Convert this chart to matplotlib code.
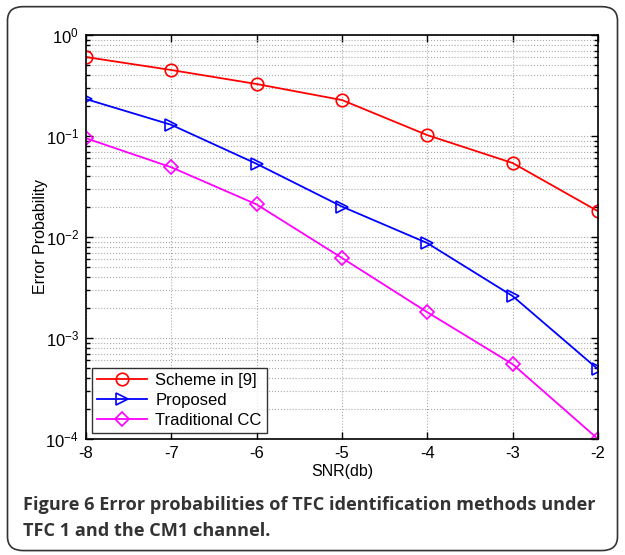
import matplotlib.pyplot as plt
from matplotlib.patches import FancyBboxPatch

snr = [-8, -7, -6, -5, -4, -3, -2]
scheme9 = [0.605, 0.45, 0.327, 0.227, 0.102, 0.054, 0.018]
proposed = [0.232, 0.129, 0.053, 0.020, 0.0087, 0.0026, 0.00049]
traditional = [0.095, 0.049, 0.021, 0.0062, 0.0018, 0.00055, 0.0001]

plt.rcParams['font.family'] = ['Liberation Sans', 'DejaVu Sans']
plt.rcParams['axes.unicode_minus'] = False

fig = plt.figure(figsize=(6.25, 5.55), dpi=100)

# rounded frame around the whole figure
frame = FancyBboxPatch((0.012, 0.008), 0.976, 0.98,
                       boxstyle="round,pad=0,rounding_size=0.025",
                       transform=fig.transFigure, fill=False,
                       edgecolor='#333333', linewidth=1.2)
fig.patches.append(frame)

ax = fig.add_axes([86/625, 1-439/555, (598-86)/625, (439-35)/555])
ax.plot(snr, scheme9, color='red', marker='o', markersize=9, mfc='none',
        mew=1.2, lw=1.3, label='Scheme in [9]')
ax.plot(snr, proposed, color='blue', marker='>', markersize=9, mfc='none',
        mew=1.2, lw=1.3, label='Proposed')
ax.plot(snr, traditional, color='magenta', marker='D', markersize=7, mfc='none',
        mew=1.2, lw=1.3, label='Traditional CC')

ax.set_yscale('log')
ax.set_xlim(-8, -2)
ax.set_ylim(1e-4, 1)
ax.set_xticks(snr)
ax.set_yticks([1e-4, 1e-3, 1e-2, 1e-1, 1])
ax.grid(True, which='major', linestyle=':', color='#aaaaaa', lw=0.8)
ax.grid(True, which='minor', axis='y', linestyle=':', color='#aaaaaa', lw=0.8)
ax.tick_params(which='both', direction='in', top=True, right=True,
               labelsize=12, width=1)
ax.tick_params(which='major', length=5, pad=5)
ax.tick_params(which='minor', length=3)
for s in ax.spines.values():
    s.set_linewidth(1.2)

ax.set_xlabel('SNR(db)', fontsize=11.5, labelpad=2)
ax.set_ylabel('Error Probability', fontsize=11.5, labelpad=-2)

leg = ax.legend(loc='lower left', fontsize=12, fancybox=False,
                edgecolor='black', borderaxespad=0.35, handlelength=3,
                borderpad=0.3, labelspacing=0.3, handletextpad=0.5)
leg.get_frame().set_linewidth(1.0)

cap = dict(fontsize=13.1, color='#333333', family='Open Sans',
           fontweight='bold', va='center')
fig.text(23/625, 1-505/555,
         "Figure 6 Error probabilities of TFC identification methods under",
         **cap)
fig.text(23/625, 1-531/555, "TFC 1 and the CM1 channel.", **cap)

fig.savefig('out.png', dpi=100)
